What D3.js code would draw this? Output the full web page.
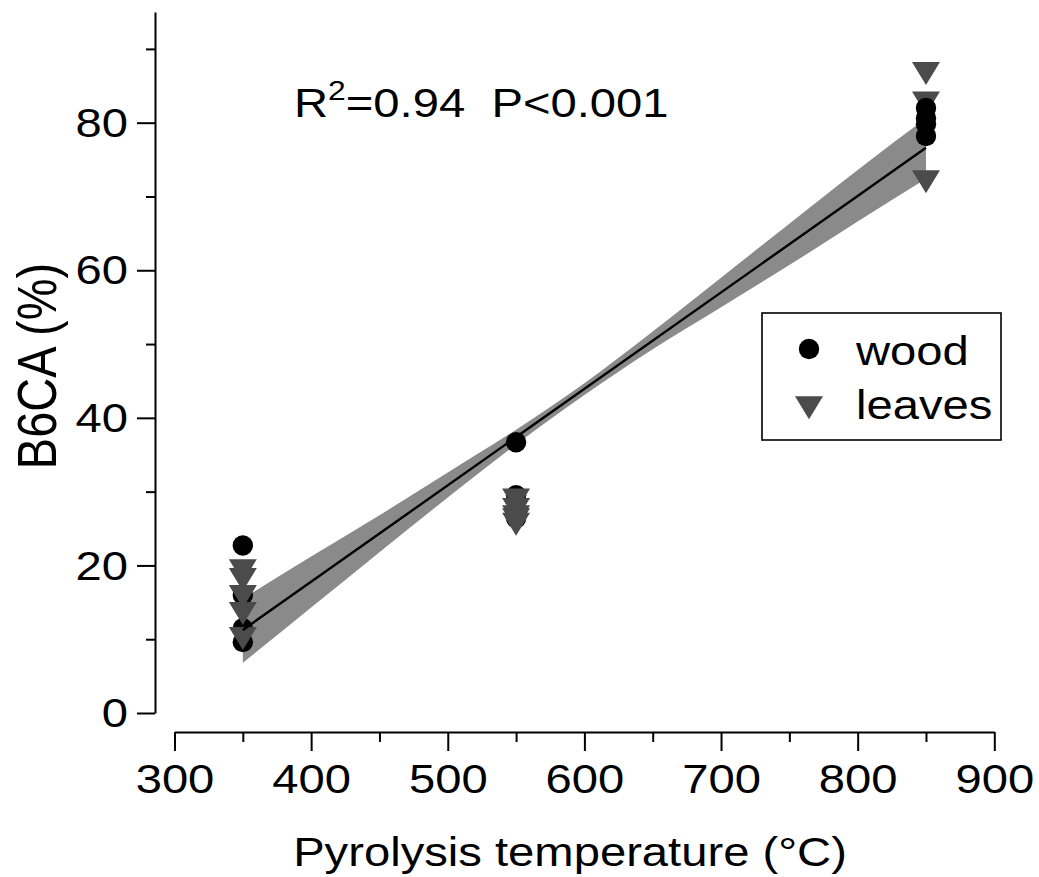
<!DOCTYPE html>
<html>
<head>
<meta charset="utf-8">
<script src="https://cdn.jsdelivr.net/npm/d3@7"></script>
<style>
  html, body { margin: 0; padding: 0; background: #fff; }
  svg { display: block; }
  text { font-family: "Liberation Sans", Arial, Helvetica, sans-serif; fill: #000; }
</style>
</head>
<body>
<svg id="chart" width="1039" height="877"></svg>
<script>
// B6CA yield of wood and leaf biochars by pyrolysis temperature
const woodTemp   = [350, 350, 350, 350, 550, 550, 550, 850, 850, 850, 850];
const woodB6CA   = [22.7, 16.0, 11.5, 9.6, 36.7, 29.5, 26.4, 82.0, 80.6, 79.8, 78.2];
const leavesTemp = [350, 350, 350, 350, 350, 550, 550, 550, 550, 550, 850, 850, 850];
const leavesB6CA = [19.8, 18.6, 16.3, 14.0, 10.6, 29.4, 28.1, 27.1, 26.7, 26.1, 87.2, 83.2, 72.5];

// Linear fit and its 95% confidence band
const fitTemp  = [350, 850];
const fitB6CA  = [11.25, 76.6];
const bandTemp  = [350, 400, 450, 500, 550, 600, 650, 700, 750, 800, 850];
const bandLower = [6.8, 14.3, 21.8, 29.2, 36.4, 43.1, 49.3, 55.0, 60.7, 66.6, 72.4];
const bandUpper = [15.5, 21.2, 26.8, 32.6, 38.4, 44.7, 51.7, 59.0, 66.3, 73.6, 80.6];

const xMajor = [300, 400, 500, 600, 700, 800, 900];
const xMinor = [350, 450, 550, 650, 750, 850];
const yMajor = [0, 20, 40, 60, 80];
const yMinor = [10, 30, 50, 70, 90];

const statText = { r2: "0.94", p: "0.001" };
const legendLabels = ["wood", "leaves"];

// ---- layout ----
const svg = d3.select("#chart");
const FONT = 40;
const STRETCH = 1.18;        // horizontal text stretch of the figure
const x = d3.scaleLinear().domain([300, 900]).range([174.5, 994.3]);
const y = d3.scaleLinear().domain([0, 95]).range([713, 12]);
const xAxisY = 732;
const yAxisX = 155;

const BAND_FILL = "#8a8a8a";
const LEAF_FILL = "#4b4b4b";
const CIRCLE_R = 10.2;
const TRI_W = 28, TRI_H = 23;

function downTriangle(cx, cy) {
  // centroid sits one third of the height below the top edge
  const top = cy - TRI_H / 3, bottom = cy + 2 * TRI_H / 3;
  return `M${cx - TRI_W / 2},${top}L${cx + TRI_W / 2},${top}L${cx},${bottom}Z`;
}

function stretchText(sel, tx, ty) {
  sel.attr("x", 0).attr("transform", `translate(${tx},${ty}) scale(${STRETCH},1)`);
}

// ---- band and fit line ----
const band = bandTemp.map((t, i) => ({ t, lo: bandLower[i], hi: bandUpper[i] }));
svg.append("path")
  .datum(band)
  .attr("fill", BAND_FILL)
  .attr("d", d3.area().curve(d3.curveMonotoneX)
    .x(d => x(d.t)).y0(d => y(d.lo)).y1(d => y(d.hi)));

// ---- points ----
const wood = woodTemp.map((t, i) => ({ t, v: woodB6CA[i] }));
const leaves = leavesTemp.map((t, i) => ({ t, v: leavesB6CA[i] }));

function drawWood(data) {
  svg.append("g").selectAll("circle").data(data).join("circle")
    .attr("cx", d => x(d.t)).attr("cy", d => y(d.v))
    .attr("r", CIRCLE_R).attr("fill", "#000");
}
// low-temperature wood sits beneath the leaf markers, high-temperature wood above them
drawWood(wood.filter(d => d.t < 800));
svg.append("g").selectAll("path").data(leaves).join("path")
  .attr("d", d => downTriangle(x(d.t), y(d.v)))
  .attr("fill", LEAF_FILL);
drawWood(wood.filter(d => d.t >= 800));

svg.append("line")
  .attr("x1", x(fitTemp[0])).attr("y1", y(fitB6CA[0]))
  .attr("x2", x(fitTemp[1])).attr("y2", y(fitB6CA[1]))
  .attr("stroke", "#000").attr("stroke-width", 2.4);

// ---- axes ----
function styleAxis(g) {
  g.selectAll("path.domain").attr("stroke", "#000").attr("stroke-width", 2);
  g.selectAll(".tick line").attr("stroke", "#000").attr("stroke-width", 2);
}

const yAxisG = svg.append("g").attr("transform", `translate(${yAxisX},0)`)
  .call(d3.axisLeft(y).tickValues(yMajor).tickSize(18).tickSizeOuter(0).tickPadding(9)
    .tickFormat(d3.format("d")));
svg.append("g").attr("transform", `translate(${yAxisX},0)`)
  .call(d3.axisLeft(y).tickValues(yMinor).tickSize(9).tickSizeOuter(0).tickFormat(""))
  .call(g => g.select("path.domain").remove())
  .call(styleAxis);
styleAxis(yAxisG);
yAxisG.selectAll(".tick text")
  .attr("font-size", FONT).attr("dy", "0.34em")
  .each(function () { stretchText(d3.select(this), -27, 0); });

const xAxisG = svg.append("g").attr("transform", `translate(0,${xAxisY})`)
  .call(d3.axisBottom(x).tickValues(xMajor).tickSize(19).tickSizeOuter(0).tickPadding(14)
    .tickFormat(d3.format("d")));
svg.append("g").attr("transform", `translate(0,${xAxisY})`)
  .call(d3.axisBottom(x).tickValues(xMinor).tickSize(10).tickSizeOuter(0).tickFormat(""))
  .call(g => g.select("path.domain").remove())
  .call(styleAxis);
styleAxis(xAxisG);
xAxisG.selectAll(".tick text")
  .attr("font-size", FONT)
  .each(function () { stretchText(d3.select(this), 0, 0); });
svg.selectAll("g").attr("font-family", null);

// ---- axis titles ----
svg.append("text")
  .attr("font-size", FONT).attr("text-anchor", "middle")
  .text("Pyrolysis temperature (°C)")
  .call(s => stretchText(s, 570, 866));

svg.append("text")
  .attr("font-size", 47).attr("text-anchor", "middle")
  .attr("transform", `translate(56,366) rotate(-90) scale(1,${STRETCH})`)
  .text("B6CA (%)");

// ---- statistics ----
const stat = svg.append("text").attr("font-size", FONT).style("white-space", "pre");
stretchText(stat, 294, 117);
stat.append("tspan").text("R");
stat.append("tspan").attr("font-size", 27).attr("dy", -17).text("2");
stat.append("tspan").attr("dy", 17).text(`=${statText.r2}  P<${statText.p}`);

// ---- legend ----
const lg = svg.append("g");
lg.append("rect").attr("x", 762).attr("y", 313).attr("width", 239).attr("height", 127)
  .attr("fill", "#fff").attr("stroke", "#000").attr("stroke-width", 1.6);
lg.append("circle").attr("cx", 809).attr("cy", 349).attr("r", CIRCLE_R).attr("fill", "#000");
lg.append("path").attr("d", downTriangle(809, 404)).attr("fill", LEAF_FILL);
lg.append("text").attr("font-size", FONT).text(legendLabels[0]).call(s => stretchText(s, 856, 365));
lg.append("text").attr("font-size", FONT).text(legendLabels[1]).call(s => stretchText(s, 856, 419));
</script>
</body>
</html>
